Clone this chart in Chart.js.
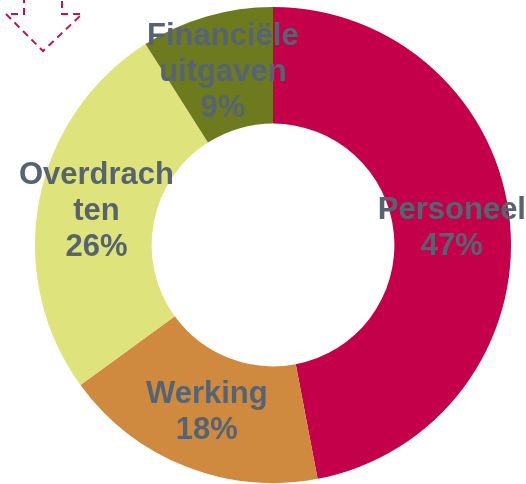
<!DOCTYPE html>
<html>
<head>
<meta charset="utf-8">
<script src="https://cdn.jsdelivr.net/npm/chart.js@4"></script>
<style>
  html, body { margin: 0; padding: 0; background: #ffffff; }
  #wrap { position: relative; width: 526px; height: 484px; }
</style>
</head>
<body>
<div id="wrap"><canvas id="c"></canvas></div>
<script>
const categories = ["Personeel", "Werking", "Overdrachten", "Financiële uitgaven"];
const values = [47, 18, 26, 9];
const labelLines = [["Personeel", "47%"], ["Werking", "18%"], ["Overdrach", "ten", "26%"], ["Financiële", "uitgaven", "9%"]];
const colors = ["#C4004A", "#D08A40", "#DFE37B", "#6D7B1E"];

const sliceLabels = {
  id: "sliceLabels",
  afterDatasetsDraw(chart) {
    const ctx = chart.ctx;
    const meta = chart.getDatasetMeta(0);
    ctx.save();
    ctx.font = "bold 31px 'Liberation Sans', Arial, sans-serif";
    ctx.fillStyle = "#566472";
    ctx.textAlign = "center";
    ctx.textBaseline = "middle";
    const lh = 36;
    meta.data.forEach((arc, i) => {
      const p = arc.tooltipPosition();
      const lines = labelLines[i];
      const start = p.y - (lines.length - 1) * lh / 2;
      lines.forEach((t, k) => ctx.fillText(t, p.x, start + k * lh));
    });
    ctx.restore();
  }
};

const arrowDeco = {
  id: "arrowDeco",
  afterDraw(chart) {
    const ctx = chart.ctx;
    ctx.save();
    ctx.strokeStyle = "#C8104E";
    ctx.lineWidth = 2;
    ctx.setLineDash([7, 5]);
    ctx.beginPath();
    ctx.moveTo(24, -4);
    ctx.lineTo(24, 14);
    ctx.lineTo(6, 14);
    ctx.lineTo(43, 51);
    ctx.lineTo(82, 14);
    ctx.lineTo(62, 14);
    ctx.lineTo(62, -4);
    ctx.stroke();
    ctx.restore();
  }
};

new Chart(document.getElementById("c"), {
  type: "doughnut",
  data: {
    labels: categories,
    datasets: [{
      data: values,
      backgroundColor: colors,
      borderWidth: 0,
      hoverOffset: 0
    }]
  },
  options: {
    responsive: true,
    maintainAspectRatio: false,
    animation: false,
    cutout: "51%",
    layout: { padding: { top: 7, bottom: 1, left: 35, right: 15 } },
    plugins: {
      legend: { display: false },
      tooltip: { enabled: false }
    }
  },
  plugins: [sliceLabels, arrowDeco]
});
</script>
</body>
</html>
